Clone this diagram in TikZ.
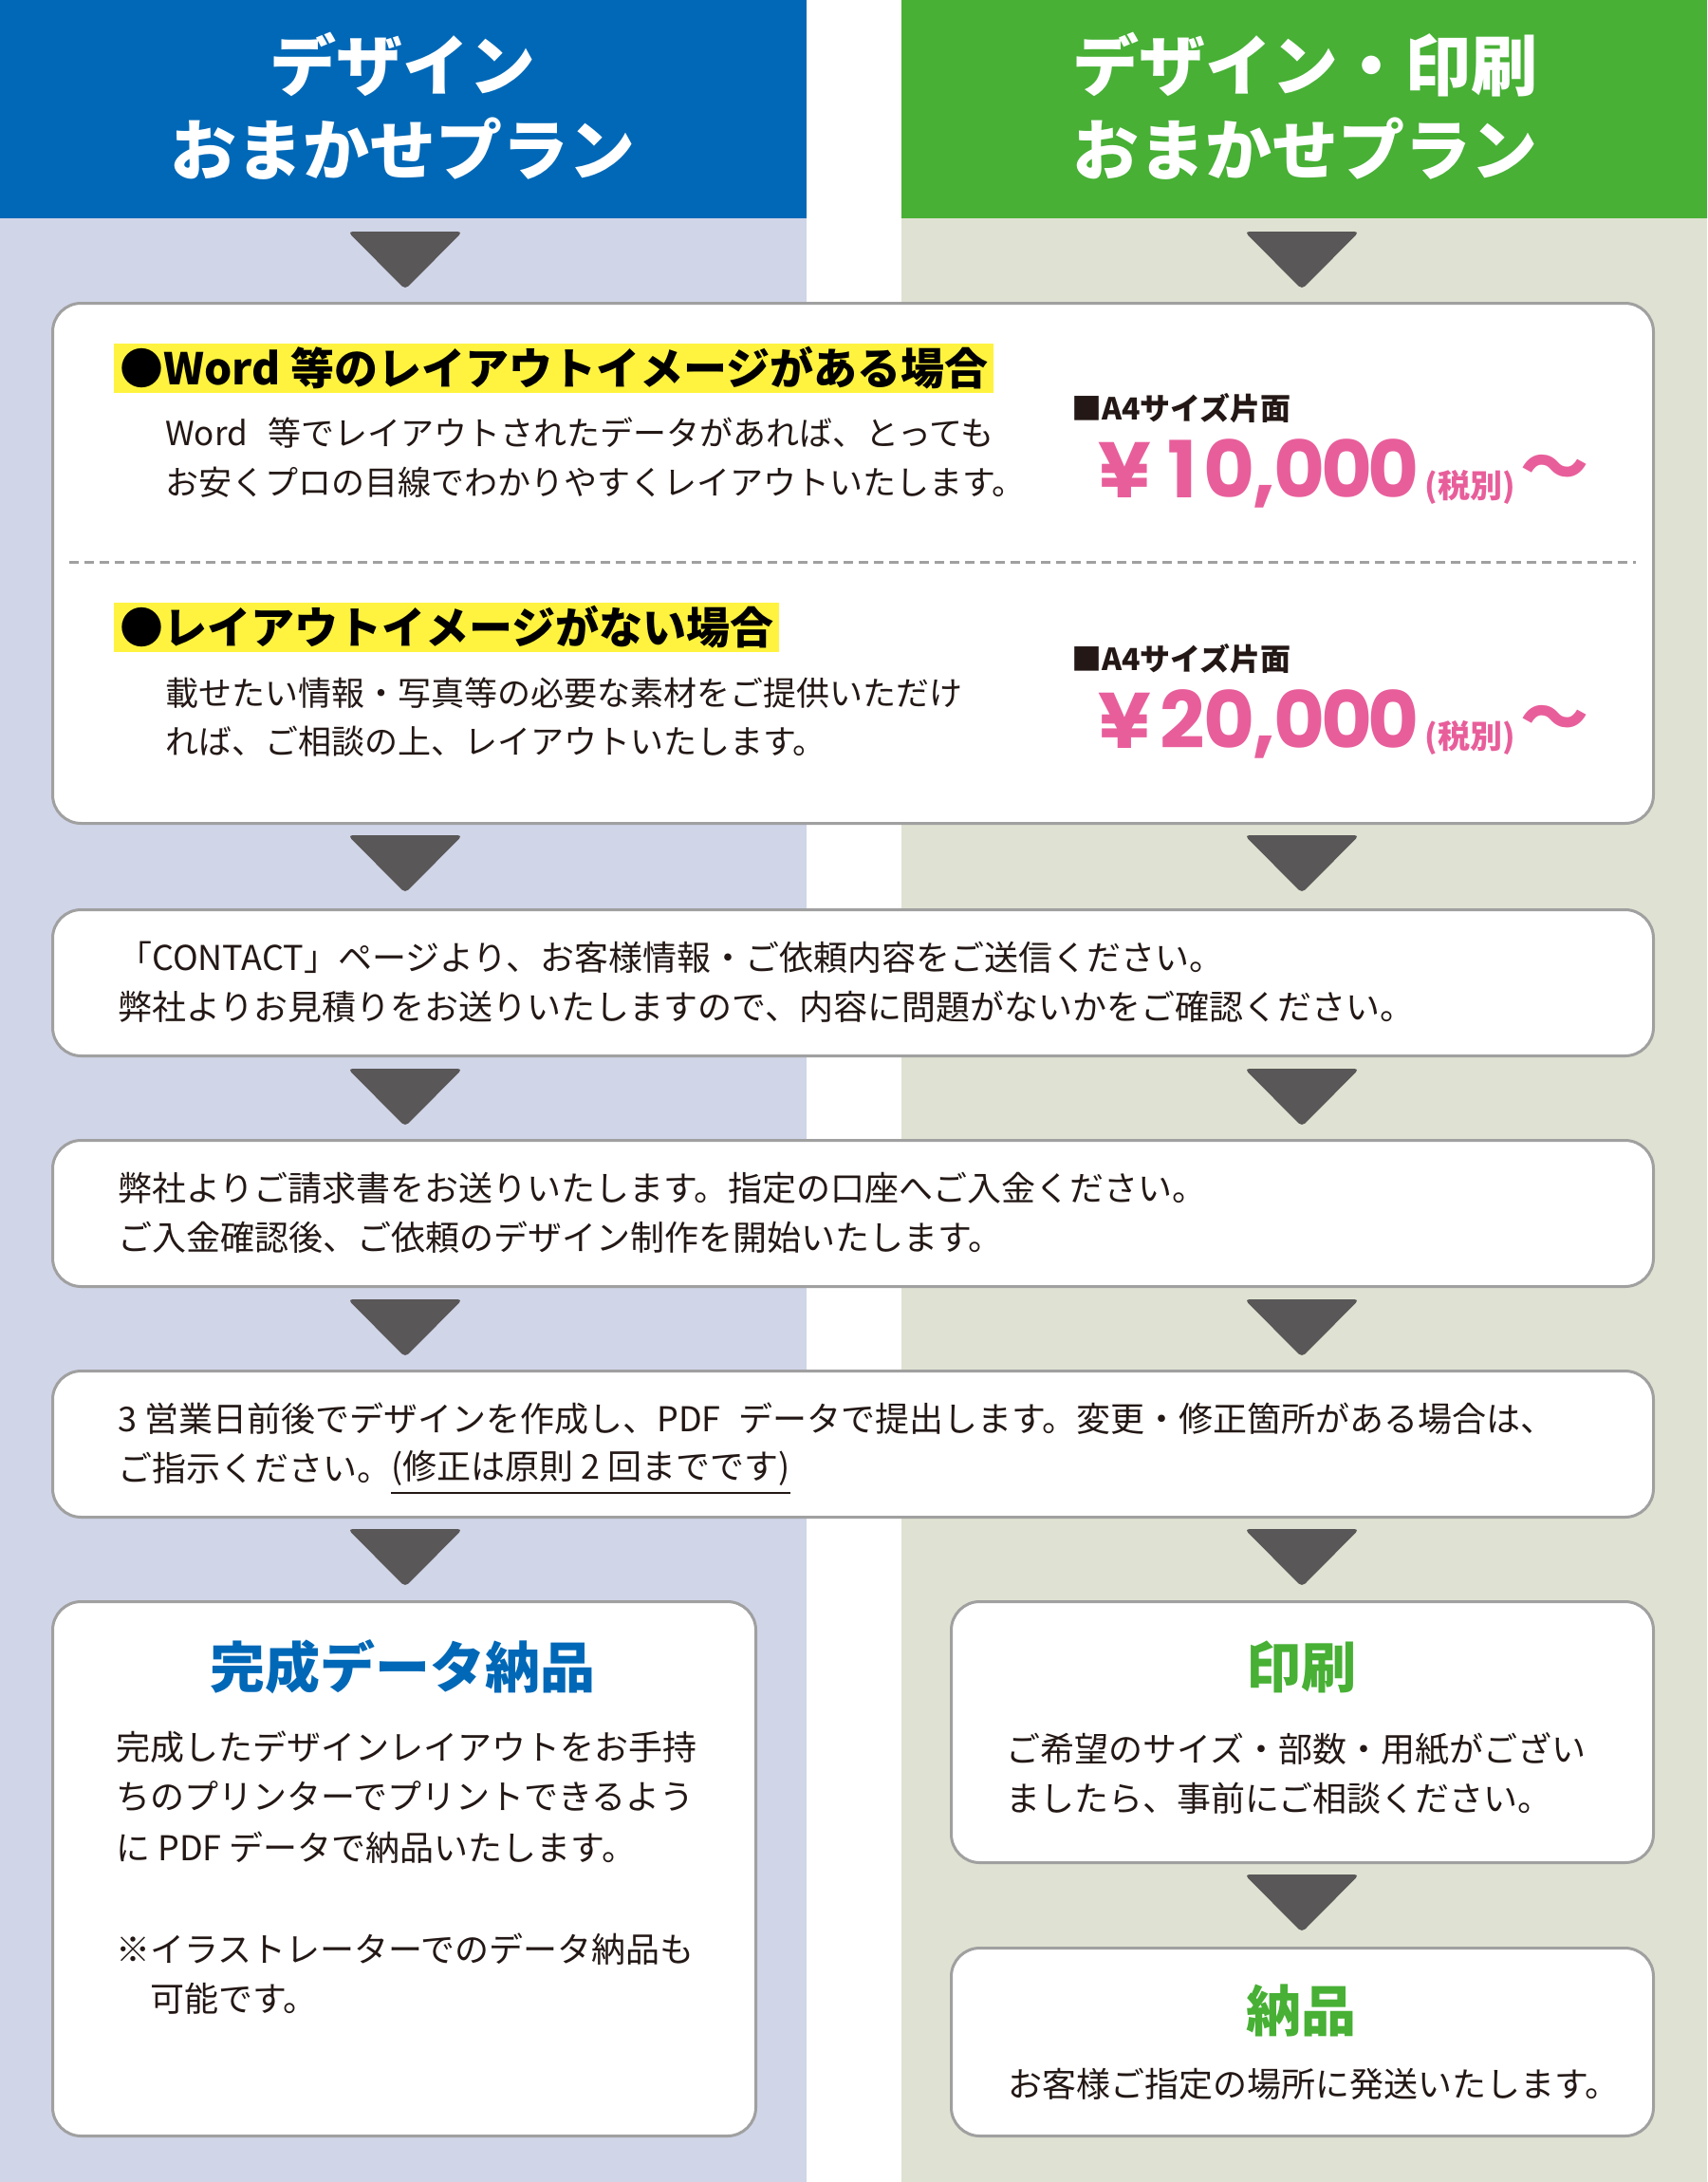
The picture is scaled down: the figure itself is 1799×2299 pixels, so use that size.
\documentclass[tikz,border=0pt]{standalone}
\usepackage{fontspec}
\setmainfont{Noto Sans CJK JP}
\newfontfamily\popfont{Poppins}
\definecolor{hblue}{RGB}{0,104,183}
\definecolor{hgreen}{RGB}{71,176,53}
\definecolor{bgl}{RGB}{208,213,232}
\definecolor{bgr}{RGB}{223,226,210}
\definecolor{boxgray}{RGB}{160,160,160}
\definecolor{arr}{RGB}{89,87,87}
\definecolor{txt}{RGB}{35,24,21}
\definecolor{pinkc}{RGB}{232,94,155}
\definecolor{yel}{RGB}{255,243,63}
\newcommand\dg[1]{\makebox[0.6em][c]{#1}}
\newcommand\pricetext[1]{{\popfont\bfseries\fontsize{83}{83}\selectfont ¥\hspace{8pt}#1}\hspace{8pt}{\bfseries\fontsize{34}{34}\selectfont (税別)}\hspace{6pt}\raisebox{6pt}{\bfseries\fontsize{72}{72}\selectfont 〜}}
\newcommand\dnarrow[2]{\fill[tri] ({#1-60.5},#2) -- ({#1+60.5},#2) -- (#1,{#2+61}) -- cycle;}
\begin{document}
\begin{tikzpicture}[x=1pt,y=-1pt,
 box/.style={draw=boxgray,line width=3pt,fill=white,rounded corners=30pt,anchor=north west,inner sep=0pt},
 tri/.style={fill=arr,rounded corners=5pt},
 hdr/.style={text=white,font=\bfseries\fontsize{70}{84}\selectfont,inner sep=0pt},
 body/.style={anchor=west,inner sep=0pt,text=txt,font=\fontsize{36}{42}\selectfont},
 bodyone/.style={anchor=west,inner sep=0pt,text=txt,font=\fontsize{35}{40}\selectfont},
 hl/.style={anchor=west,fill=yel,inner xsep=6pt,inner ysep=4pt,text=black,font=\bfseries\fontsize{46}{54}\selectfont},
 sizelab/.style={anchor=west,inner sep=0pt,text=txt,font=\bfseries\fontsize{32}{38}\selectfont},
 price/.style={anchor=base west,inner sep=0pt,text=pinkc},
 ttl/.style={inner sep=0pt,font=\bfseries\fontsize{58}{64}\selectfont},
]
\useasboundingbox (0,0) rectangle (1799,2299);
% column backgrounds
\fill[bgl] (0,0) rectangle (850,2299);
\fill[bgr] (950,0) rectangle (1799,2299);
% headers
\fill[hblue] (0,0) rectangle (850,230);
\fill[hgreen] (950,0) rectangle (1799,230);
\node[hdr] (hl1) at (424,68) {デザイン};
\node[hdr] (hl2) at (424,157) {おまかせプラン};
\node[hdr] (hr1) at (1375,68) {デザイン・印刷};
\node[hdr] (hr2) at (1375,157) {おまかせプラン};
% arrows
\dnarrow{427}{244}
\dnarrow{1372}{244}
\dnarrow{427}{880}
\dnarrow{1372}{880}
\dnarrow{427}{1126}
\dnarrow{1372}{1126}
\dnarrow{427}{1369}
\dnarrow{1372}{1369}
\dnarrow{427}{1611}
\dnarrow{1372}{1611}
\dnarrow{1372}{1975}
% boxes
\node[box,minimum width=1687pt,minimum height=548pt] (b1) at (54,318) {};
\node[box,minimum width=1687pt,minimum height=154pt] (b2) at (54,957) {};
\node[box,minimum width=1687pt,minimum height=154pt] (b3) at (54,1200) {};
\node[box,minimum width=1687pt,minimum height=154pt] (b4) at (54,1443) {};
\node[box,minimum width=741pt,minimum height=563pt] (b5) at (54,1686) {};
\node[box,minimum width=740pt,minimum height=275pt] (b6) at (1001,1686) {};
\node[box,minimum width=740pt,minimum height=198pt] (b7) at (1001,2051) {};
% box 1
\node[hl] (h1) at (120,388) {●Word 等のレイアウトイメージがある場合};
\node[bodyone] (t11) at (174,456) {Word\hspace{0.6em}等でレイアウトされたデータがあれば、とっても};
\node[bodyone] (t12) at (174,508) {お安くプロの目線でわかりやすくレイアウトいたします。};
\node[sizelab] (s1) at (1129,430) {■A4サイズ片面};
\node[price] (p1) at (1157,524) {\pricetext{\dg1\dg0,\dg0\dg0\dg0}};
\draw[boxgray,line width=3pt,dash pattern=on 10pt off 6pt] (73,592) -- (1724,592);
\node[hl] (h2) at (120,661) {●レイアウトイメージがない場合};
\node[bodyone] (t21) at (174,730) {載せたい情報・写真等の必要な素材をご提供いただけ};
\node[bodyone] (t22) at (174,781) {れば、ご相談の上、レイアウトいたします。};
\node[sizelab] (s2) at (1129,694) {■A4サイズ片面};
\node[price] (p2) at (1157,788) {\pricetext{\dg2\dg0,\dg0\dg0\dg0}};
% box 2
\node[body] (c1) at (124,1009) {「CONTACT」ページより、お客様情報・ご依頼内容をご送信ください。};
\node[body] (c2) at (124,1061) {弊社よりお見積りをお送りいたしますので、内容に問題がないかをご確認ください。};
% box 3
\node[body] (d1) at (124,1252) {弊社よりご請求書をお送りいたします。指定の口座へご入金ください。};
\node[body] (d2) at (124,1304) {ご入金確認後、ご依頼のデザイン制作を開始いたします。};
% box 4
\node[body] (e1) at (124,1495) {3 営業日前後でデザインを作成し、PDF\hspace{0.3em} データで提出します。変更・修正箇所がある場合は、};
\node[body] (e2) at (124,1547) {ご指示ください。};
\node[body] (e3) at (e2.east) {(修正は原則 2 回までです)};
\draw[txt,line width=2.5pt] ([yshift=-7pt]e3.south west) -- ([yshift=-7pt]e3.south east);
% box 5
\node[ttl,text=hblue] (k0) at (424,1756) {完成データ納品};
\node[body] (k1) at (122,1841) {完成したデザインレイアウトをお手持};
\node[body] (k2) at (122,1893) {ちのプリンターでプリントできるよう};
\node[body] (k3) at (122,1947) {に PDF データで納品いたします。};
\node[body] (k4) at (122,2054) {※イラストレーターでのデータ納品も};
\node[body] (k5) at (158,2106) {可能です。};
% box 6
\node[ttl,text=hgreen] (m0) at (1371,1756) {印刷};
\node[body] (m1) at (1060,1843) {ご希望のサイズ・部数・用紙がござい};
\node[body] (m2) at (1060,1895) {ましたら、事前にご相談ください。};
% box 7
\node[ttl,text=hgreen] (n0) at (1371,2118) {納品};
\node[body] (n1) at (1062,2196) {お客様ご指定の場所に発送いたします。};
\end{tikzpicture}
\end{document}
